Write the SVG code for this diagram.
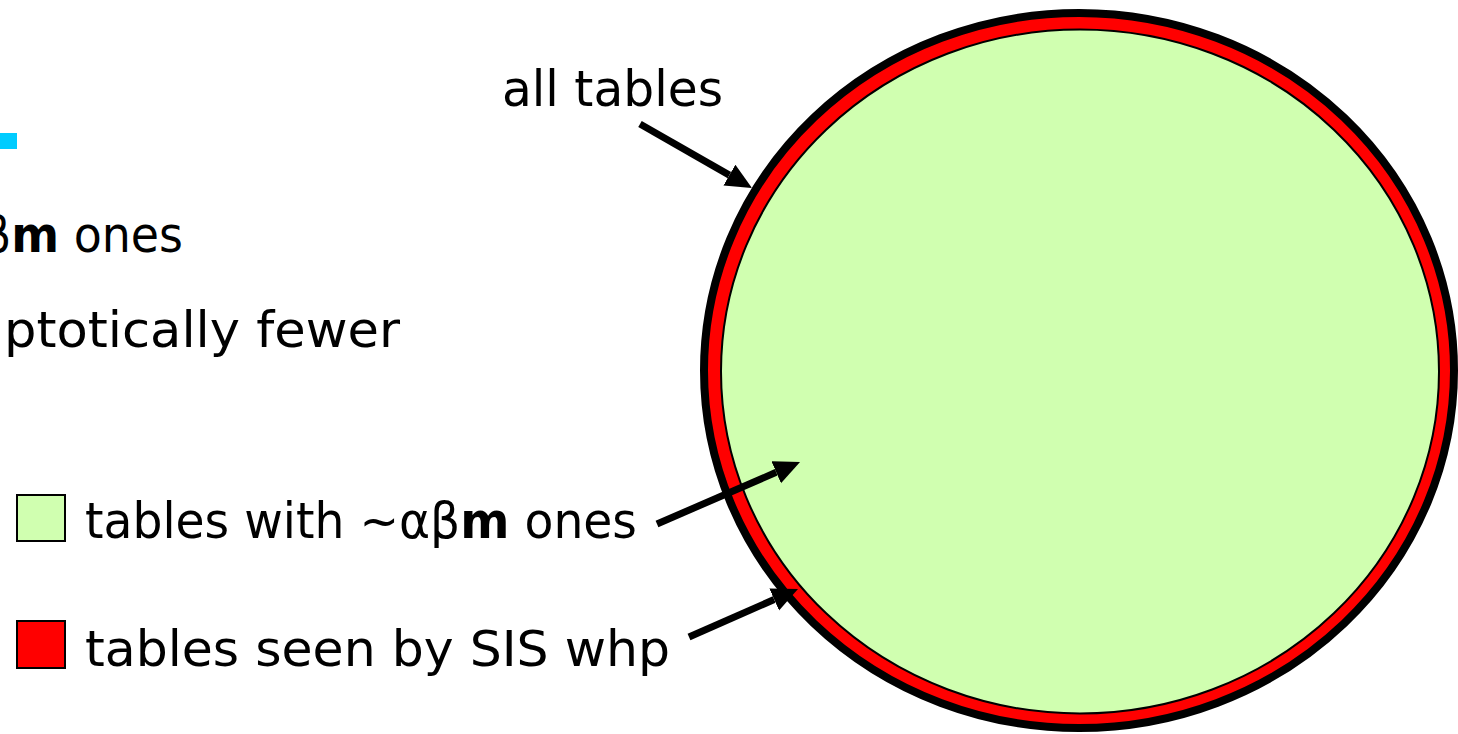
<svg xmlns="http://www.w3.org/2000/svg" width="1458" height="734" viewBox="0 0 1458 734">
<style>
.t{font-family:"Comic Sans MS","DejaVu Sans",sans-serif;font-size:50px;fill:#000}
.b{font-weight:bold}
.c{stroke:#000;stroke-width:7;fill:none}
</style>
<defs>
<marker id="ah" markerUnits="userSpaceOnUse" markerWidth="28" markerHeight="26" refX="0" refY="12" orient="auto">
<path d="M0,0 L26,12 L0,24 z" fill="#000"/>
</marker>
</defs>
<rect width="1458" height="734" fill="#fff"/>
<g id="bullet-fragment">
<rect x="0" y="133" width="17" height="16" fill="#00ccff"/>
<text class="t" x="-18" y="252" textLength="201" lengthAdjust="spacingAndGlyphs">β<tspan class="b">m</tspan> ones</text>
<text class="t" x="4" y="347" textLength="396" lengthAdjust="spacingAndGlyphs">ptotically fewer</text>
</g>
<g id="set-all-tables">
<ellipse cx="1079" cy="370.5" rx="375" ry="357.5" fill="#ff0000" stroke="#000" stroke-width="8"/>
<ellipse cx="1080" cy="371.5" rx="359" ry="342" fill="#d0ffb0" stroke="#000" stroke-width="2"/>
</g>
<g id="label-all-tables">
<text class="t" x="502" y="106" textLength="221" lengthAdjust="spacingAndGlyphs">all tables</text>
</g>
<g id="legend-green">
<rect x="17" y="495" width="48" height="46" fill="#d0ffb0" stroke="#000" stroke-width="2"/>
<text class="t" x="85" y="538" textLength="552" lengthAdjust="spacingAndGlyphs">tables with ~αβ<tspan class="b">m</tspan> ones</text>
</g>
<g id="legend-red">
<rect x="17" y="621" width="48" height="47" fill="#ff0000" stroke="#000" stroke-width="2"/>
<text class="t" x="85" y="666" textLength="585" lengthAdjust="spacingAndGlyphs">tables seen by SIS whp</text>
</g>
<g id="connectors">
<line class="c" x1="640" y1="124" x2="729.4" y2="175.1" marker-end="url(#ah)"/>
<line class="c" x1="657" y1="524" x2="776.2" y2="472.3" marker-end="url(#ah)"/>
<line class="c" x1="689" y1="637" x2="774.2" y2="599.5" marker-end="url(#ah)"/>
</g>
</svg>
